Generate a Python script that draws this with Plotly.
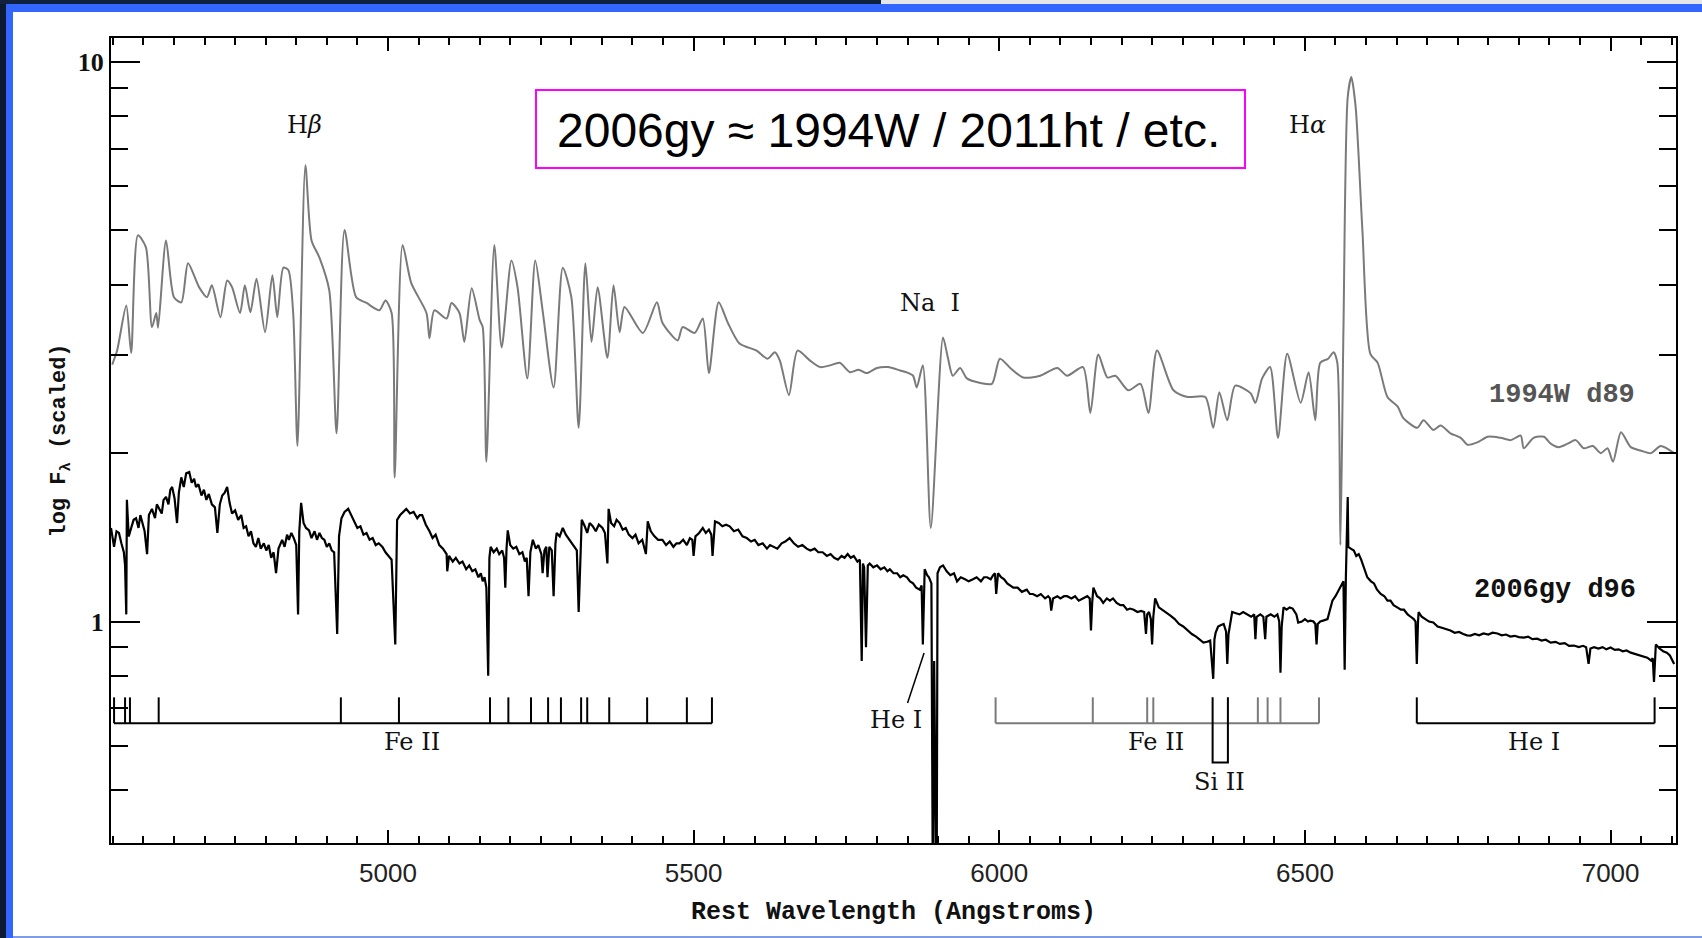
import math
import plotly.graph_objects as go

# ---------------- data ----------------
# SN 1994W, day 89 (grey spectrum): rest wavelength (A) and scaled flux
w94_wl = [4549, 4557, 4572, 4580, 4591, 4604, 4614, 4621, 4624, 4637,
          4650, 4662, 4673, 4691, 4704, 4712, 4726, 4737, 4745, 4758,
          4766, 4775, 4785, 4799, 4811, 4819, 4829, 4837, 4845, 4852,
          4865, 4875, 4888, 4904, 4916, 4929, 4948, 4965, 4986, 4996,
          5006, 5011, 5024, 5038, 5063, 5068, 5076, 5096, 5104, 5117,
          5125, 5137, 5150, 5155, 5161, 5174, 5186, 5202, 5212, 5228,
          5241, 5253, 5271, 5286, 5300, 5312, 5323, 5333, 5343, 5359,
          5369, 5379, 5387, 5417, 5440, 5449, 5474, 5482, 5502, 5515,
          5525, 5541, 5556, 5575, 5603, 5621, 5633, 5641, 5656, 5670,
          5690, 5707, 5723, 5739, 5756, 5770, 5783, 5800, 5818, 5838,
          5848, 5859, 5865,
          5875, 5888, 5908, 5916, 5924, 5936, 5947, 5969, 5988, 6001,
          6018, 6039, 6067, 6095, 6111, 6137, 6149, 6162, 6177, 6190,
          6211, 6231, 6244, 6258, 6285, 6308, 6337, 6350, 6360, 6373,
          6386, 6411, 6419, 6430, 6443, 6456, 6471, 6493, 6506, 6517,
          6525, 6538, 6547, 6553, 6558, 6563, 6570, 6576, 6583, 6594,
          6607, 6619, 6635, 6652, 6661, 6684, 6694, 6710, 6722, 6738,
          6755, 6766, 6782, 6799, 6820, 6837, 6853, 6858, 6874, 6891,
          6902, 6915, 6930, 6943, 6956, 6971, 6984, 6995, 7004, 7017,
          7033, 7050, 7066, 7082, 7104]
w94_flux = [2.88, 3.05, 3.67, 3.02, 4.90, 4.67, 3.36, 3.56, 3.35, 4.80,
            3.80, 3.72, 4.37, 3.96, 3.80, 3.99, 3.50, 4.07, 3.96, 3.56,
            3.99, 3.57, 4.10, 3.29, 4.16, 3.50, 4.29, 4.25, 3.56, 2.06,
            6.54, 4.80, 4.47, 3.91, 2.17, 5.01, 3.80, 3.71, 3.60, 3.75,
            3.56, 1.81, 4.71, 4.03, 3.56, 3.21, 3.60, 3.48, 3.71, 3.56,
            3.16, 3.94, 3.46, 3.36, 1.93, 4.71, 3.09, 4.42, 3.96, 2.72,
            4.42, 3.60, 2.62, 4.29, 3.80, 2.22, 4.37, 3.16, 3.96, 2.96,
            3.99, 3.29, 3.65, 3.28, 3.72, 3.42, 3.18, 3.36, 3.28, 3.48,
            2.78, 3.72, 3.42, 3.14, 3.05, 2.95, 3.03, 2.93, 2.54, 3.05,
            2.93, 2.85, 2.87, 2.90, 2.79, 2.82, 2.78, 2.84, 2.85, 2.81,
            2.79, 2.75, 2.62,
            2.87, 1.47, 3.22, 2.96, 2.75, 2.84, 2.72, 2.67, 2.66, 2.95,
            2.84, 2.73, 2.75, 2.84, 2.75, 2.85, 2.36, 3.00, 2.73, 2.75,
            2.59, 2.66, 2.36, 3.05, 2.59, 2.52, 2.52, 2.22, 2.57, 2.29,
            2.64, 2.56, 2.46, 2.72, 2.85, 2.13, 3.01, 2.46, 2.79, 2.29,
            2.90, 2.95, 3.03, 2.90, 1.37, 3.32, 8.66, 9.40, 8.31, 5.01,
            3.01, 2.90, 2.52, 2.42, 2.31, 2.22, 2.29, 2.20, 2.24, 2.17,
            2.13, 2.07, 2.09, 2.14, 2.13, 2.11, 2.15, 2.04, 2.13, 2.14,
            2.08, 2.05, 2.08, 2.11, 2.04, 2.06, 2.00, 2.04, 1.93, 2.18,
            2.05, 2.02, 2.00, 2.06, 2.00]

# SN 2006gy, day 96 (black spectrum)
gy_wl = [4547, 4550, 4552, 4556, 4560, 4564, 4568, 4570, 4572, 4573,
         4576, 4580, 4584, 4588, 4592, 4595, 4598, 4602, 4606, 4609,
         4614, 4619, 4622, 4626, 4630, 4633, 4637, 4641, 4644, 4647,
         4651, 4655, 4658, 4662, 4666, 4670, 4675, 4679, 4683, 4686,
         4690, 4695, 4699, 4703, 4707, 4712, 4717, 4721, 4725, 4729,
         4733, 4737, 4741, 4745, 4750, 4755, 4760, 4764, 4768, 4772,
         4776, 4780, 4784, 4788, 4792, 4797, 4801, 4805, 4809, 4813,
         4817, 4821, 4824, 4827, 4831, 4835, 4838, 4842, 4846, 4850,
         4853, 4855, 4858, 4862, 4866, 4871, 4875, 4880, 4884, 4888,
         4892, 4896, 4900, 4904, 4908, 4912, 4917, 4920, 4924, 4929,
         4935, 4940, 4945, 4950, 4955, 4960, 4965, 4970, 4975, 4980,
         4985, 4991, 4996, 5001, 5006, 5012, 5015, 5020, 5025, 5030,
         5036, 5042, 5048, 5052, 5056, 5062, 5068, 5073, 5078, 5084,
         5090, 5096, 5097, 5100, 5106, 5111, 5117, 5122, 5128, 5133,
         5138, 5143, 5148, 5152, 5155, 5158, 5161, 5164, 5166, 5168,
         5173, 5178, 5182, 5187, 5190, 5192, 5194, 5196, 5200, 5205,
         5210, 5215, 5220, 5224, 5227, 5230, 5233, 5237, 5242, 5246,
         5251, 5253, 5256, 5259, 5261, 5264, 5268, 5271, 5274, 5276,
         5281, 5286, 5291, 5297, 5302, 5306, 5309, 5312, 5315, 5317,
         5322, 5326, 5330, 5335, 5340, 5345, 5351, 5355, 5359, 5361,
         5365, 5370, 5374, 5379, 5384, 5389, 5394, 5400, 5405, 5410,
         5416, 5422, 5425, 5430, 5436, 5442, 5449, 5455, 5461, 5467,
         5472, 5477, 5483, 5489, 5494, 5498, 5500, 5503, 5509, 5515,
         5520, 5525, 5529, 5531, 5535, 5541, 5547, 5553, 5559, 5566,
         5573, 5580, 5587, 5594, 5600, 5606, 5613, 5620, 5625, 5630,
         5637, 5644, 5650, 5657, 5664, 5671, 5678, 5685, 5691, 5698,
         5704, 5711, 5718, 5724, 5730, 5736, 5742, 5747, 5752, 5757,
         5762, 5768, 5772, 5775, 5777, 5779, 5782, 5785, 5788, 5794,
         5800, 5806, 5812, 5817, 5821, 5827, 5833, 5838, 5843, 5849,
         5854, 5859, 5864, 5870, 5873, 5875, 5877, 5878, 5882, 5885,
         5889, 5890, 5891.5, 5893.5, 5895.5, 5897.5, 5899, 5903, 5908, 5914,
         5920, 5926, 5931, 5937, 5944, 5950, 5957, 5963, 5970, 5975,
         5980, 5986, 5990, 5993, 5995, 5998, 6003, 6008, 6013, 6018,
         6023, 6030, 6037, 6045, 6050, 6055, 6062, 6068, 6075, 6080,
         6083, 6085, 6088, 6095, 6100, 6106, 6111, 6118, 6124, 6130,
         6137, 6144, 6148, 6150, 6152, 6154, 6160, 6165, 6170, 6176,
         6181, 6186, 6192, 6198, 6203, 6209, 6214, 6220, 6226, 6232,
         6237, 6240, 6242, 6245, 6248, 6250, 6252, 6255, 6261, 6267,
         6273, 6280, 6287, 6294, 6301, 6308, 6315, 6322, 6328, 6334,
         6340, 6345, 6350, 6352, 6354, 6358, 6362, 6367, 6371, 6373,
         6375, 6378, 6381, 6387, 6393, 6399, 6406, 6412, 6417, 6419,
         6421, 6427, 6432, 6435, 6437, 6444, 6450, 6455, 6458, 6460,
         6462, 6465, 6470, 6475, 6480, 6486, 6489, 6495, 6500, 6505,
         6509, 6514, 6517, 6519, 6521, 6525, 6531, 6537, 6541, 6545,
         6550, 6556, 6561, 6563, 6565, 6567, 6570, 6571, 6575, 6580,
         6584, 6588, 6592, 6597, 6602, 6608, 6613, 6618, 6624, 6630,
         6635, 6640, 6645, 6651, 6657, 6662, 6668, 6673, 6678, 6681,
         6683, 6685, 6686, 6691, 6697, 6703, 6710, 6717, 6724, 6731,
         6738, 6745, 6752, 6759, 6765, 6771, 6778, 6785, 6792, 6800,
         6807, 6815, 6822, 6829, 6836, 6843, 6850, 6858, 6865, 6872,
         6880, 6887, 6894, 6902, 6910, 6917, 6925, 6932, 6940, 6948,
         6955, 6960, 6964, 6967, 6973, 6980, 6987, 6993, 7000, 7007,
         7013, 7020, 7026, 7033, 7040, 7046, 7053, 7060, 7066, 7069,
         7071, 7073, 7074, 7080, 7086, 7092, 7097, 7104]
gy_flux = [1.47, 1.40, 1.36, 1.45, 1.44, 1.38, 1.33, 1.26, 1.03, 1.65,
           1.42, 1.47, 1.52, 1.53, 1.47, 1.55, 1.50, 1.45, 1.32, 1.55,
           1.59, 1.53, 1.62, 1.59, 1.56, 1.65, 1.67, 1.62, 1.72, 1.74,
           1.66, 1.50, 1.70, 1.81, 1.74, 1.84, 1.85, 1.77, 1.80, 1.74,
           1.76, 1.68, 1.72, 1.65, 1.69, 1.62, 1.60, 1.44, 1.62, 1.68,
           1.70, 1.74, 1.63, 1.56, 1.58, 1.52, 1.55, 1.47, 1.48, 1.42,
           1.45, 1.38, 1.36, 1.41, 1.35, 1.38, 1.34, 1.37, 1.30, 1.33,
           1.22, 1.35, 1.38, 1.40, 1.36, 1.43, 1.40, 1.44, 1.41, 1.37,
           1.03, 1.45, 1.63, 1.50, 1.47, 1.455, 1.41, 1.45, 1.40, 1.44,
           1.41, 1.40, 1.36, 1.38, 1.34, 1.33, 0.95, 1.42, 1.53, 1.57,
           1.59, 1.55, 1.51, 1.47, 1.48, 1.43, 1.44, 1.40, 1.41, 1.37,
           1.38, 1.36, 1.33, 1.31, 1.29, 0.91, 1.52, 1.55, 1.57, 1.59,
           1.56, 1.57, 1.53, 1.55, 1.55, 1.49, 1.45, 1.41, 1.43, 1.37,
           1.35, 1.32, 1.23, 1.31, 1.28, 1.30, 1.27, 1.28, 1.24, 1.26,
           1.23, 1.24, 1.20, 1.22, 1.18, 1.20, 1.15, 0.80, 1.30, 1.36,
           1.33, 1.35, 1.32, 1.34, 1.30, 1.15, 1.35, 1.455, 1.37, 1.35,
           1.36, 1.32, 1.33, 1.28, 1.30, 1.11, 1.33, 1.40, 1.35, 1.37,
           1.32, 1.22, 1.34, 1.36, 1.20, 1.36, 1.34, 1.11, 1.38, 1.44,
           1.42, 1.47, 1.43, 1.40, 1.38, 1.36, 1.34, 1.04, 1.40, 1.52,
           1.48, 1.44, 1.50, 1.48, 1.45, 1.49, 1.47, 1.44, 1.27, 1.59,
           1.50, 1.48, 1.52, 1.50, 1.46, 1.47, 1.43, 1.41, 1.43, 1.38,
           1.40, 1.32, 1.51, 1.45, 1.42, 1.40, 1.40, 1.37, 1.39, 1.36,
           1.38, 1.38, 1.40, 1.37, 1.41, 1.40, 1.31, 1.42, 1.44, 1.47,
           1.44, 1.46, 1.43, 1.31, 1.51, 1.50, 1.48, 1.49, 1.48, 1.45,
           1.46, 1.42, 1.41, 1.39, 1.40, 1.37, 1.38, 1.35, 1.37, 1.36,
           1.35, 1.38, 1.39, 1.41, 1.38, 1.36, 1.37, 1.35, 1.34, 1.35,
           1.33, 1.33, 1.31, 1.32, 1.30, 1.29, 1.31, 1.30, 1.32, 1.30,
           1.31, 1.28, 1.29, 0.85, 1.27, 1.25, 0.90, 1.26, 1.27, 1.25,
           1.26, 1.24, 1.25, 1.23, 1.24, 1.22, 1.22, 1.20, 1.21, 1.20,
           1.18, 1.17, 1.15, 1.14, 1.16, 0.91, 1.20, 1.24, 1.21, 1.20,
           1.17, 0.30, 0.30, 0.85, 0.30, 0.30, 1.22, 1.25, 1.26, 1.23,
           1.21, 1.22, 1.18, 1.20, 1.19, 1.18, 1.19, 1.20, 1.18, 1.20,
           1.20, 1.19, 1.21, 1.22, 1.12, 1.22, 1.20, 1.19, 1.17, 1.16,
           1.15, 1.15, 1.13, 1.14, 1.12, 1.12, 1.11, 1.12, 1.10, 1.11,
           1.10, 1.046, 1.10, 1.11, 1.10, 1.11, 1.11, 1.10, 1.11, 1.09,
           1.10, 1.11, 1.10, 0.964, 1.08, 1.15, 1.11, 1.10, 1.08, 1.10,
           1.09, 1.10, 1.08, 1.07, 1.07, 1.05, 1.055, 1.05, 1.04, 1.045,
           1.04, 0.95, 1.03, 1.04, 1.01, 0.91, 1.02, 1.10, 1.06, 1.05,
           1.04, 1.025, 1.01, 0.99, 0.98, 0.964, 0.95, 0.94, 0.93, 0.917,
           0.92, 0.925, 0.79, 0.93, 0.956, 0.98, 0.985, 0.99, 0.96, 0.84,
           0.95, 1.00, 1.04, 1.035, 1.03, 1.04, 1.03, 1.02, 1.03, 0.93,
           1.02, 1.03, 1.02, 0.93, 1.02, 1.03, 1.02, 1.03, 1.00, 0.81,
           0.98, 1.06, 1.05, 1.06, 1.055, 1.03, 0.996, 1.00, 1.01, 1.00,
           1.004, 1.00, 0.99, 0.91, 0.99, 1.00, 1.005, 1.01, 1.05, 1.09,
           1.11, 1.14, 1.17, 1.18, 0.82, 1.20, 1.67, 1.36, 1.35, 1.34,
           1.31, 1.32, 1.29, 1.24, 1.20, 1.18, 1.17, 1.14, 1.12, 1.11,
           1.09, 1.09, 1.07, 1.06, 1.05, 1.05, 1.03, 1.02, 1.01, 1.00,
           0.84, 1.00, 1.04, 1.02, 1.01, 1.00, 0.996, 0.98, 0.975, 0.97,
           0.964, 0.955, 0.958, 0.95, 0.945, 0.944, 0.95, 0.945, 0.952, 0.948,
           0.955, 0.952, 0.945, 0.948, 0.94, 0.943, 0.938, 0.936, 0.94, 0.93,
           0.932, 0.925, 0.928, 0.917, 0.92, 0.912, 0.915, 0.905, 0.906, 0.90,
           0.905, 0.90, 0.84, 0.895, 0.90, 0.895, 0.90, 0.892, 0.899, 0.89,
           0.892, 0.885, 0.888, 0.88, 0.875, 0.87, 0.865, 0.862, 0.852, 0.86,
           0.78, 0.90, 0.91, 0.895, 0.885, 0.88, 0.87, 0.84]

assert len(w94_wl) == len(w94_flux)
assert len(gy_wl) == len(gy_flux)

# line identifications (rest wavelengths, A)
fe2_blue_lines = [4552, 4570, 4578, 4625, 4923, 5018, 5167, 5197, 5234,
                  5262, 5283, 5316, 5326, 5362, 5424, 5489, 5530]
fe2_red_lines = [5994, 6153, 6242, 6252, 6423, 6439, 6460, 6523]
si2_lines = [6349, 6374]
he1_red_lines = [6683, 7072]
he1_na_line = 5877

x_tick_step = 500
x_minor_step = 50

# ---------------- geometry (pixels of the 1702x938 page) ----------------
W, H = 1702, 938
PL, PR, PT, PB = 111, 1676, 38, 843      # plot-area edges
X_RANGE = [4547, 7107]
Y_RANGE = [math.log10(0.402), math.log10(11.04)]


def px(x):
    return (x - PL) / (PR - PL)


def py(y):
    return (PB - y) / (PB - PT)


# bracket levels (flux units)
BR_BASE, BR_TOP, SI_BOTTOM = 0.658, 0.732, 0.560

fig = go.Figure()

fig.add_trace(go.Scatter(x=w94_wl, y=w94_flux, mode="lines",
                         line=dict(color="#7a7a7a", width=2, shape="spline",
                                   smoothing=0.7),
                         name="1994W d89", hoverinfo="x+y"))
fig.add_trace(go.Scatter(x=gy_wl, y=gy_flux, mode="lines",
                         line=dict(color="#000000", width=2.2),
                         name="2006gy d96", hoverinfo="x+y"))


def bracket(lines):
    xs = [min(lines), max(lines)]
    ys = [BR_BASE, BR_BASE]
    for w in lines:
        xs += [None, w, w]
        ys += [None, BR_BASE, BR_TOP]
    return xs, ys


for lines, col in [(fe2_blue_lines, "#000000"), (fe2_red_lines, "#7a7a7a"),
                   (he1_red_lines, "#000000")]:
    bx, by = bracket(lines)
    fig.add_trace(go.Scatter(x=bx, y=by, mode="lines",
                             line=dict(color=col, width=2), hoverinfo="skip"))

# Si II U-shape
fig.add_trace(go.Scatter(x=[si2_lines[0], si2_lines[0], si2_lines[1], si2_lines[1]],
                         y=[BR_TOP, SI_BOTTOM, SI_BOTTOM, BR_TOP], mode="lines",
                         line=dict(color="#000000", width=2), hoverinfo="skip"))
# He I leader line near Na I
fig.add_trace(go.Scatter(x=[he1_na_line - 27, he1_na_line], y=[0.7155, 0.8787],
                         mode="lines", line=dict(color="#000000", width=1.5),
                         hoverinfo="skip"))

SERIF = "DejaVu Serif"
MONO = "Liberation Mono"


def label(text, x, f, size=24, font=SERIF, color="#111111", weight="normal"):
    fig.add_annotation(x=x, y=math.log10(f), xref="x", yref="y", text=text,
                       showarrow=False, xanchor="center", yanchor="middle",
                       font=dict(family=font, size=size, color=color, weight=weight))


label("H<i>β</i>", 4863, 7.71)
label("H<i>α</i>", 6504, 7.71)
label("Na  I", 5886, 3.715)
label("He I", 5831, 0.668)
label("Fe II", 5039, 0.6087)
label("Fe II", 6256, 0.6087)
label("Si II", 6361, 0.516)
label("He I", 6875, 0.6087)
label("1994W d89", 6921, 2.537, size=27, font=MONO, color="#555555", weight="bold")
label("2006gy d96", 6909, 1.141, size=27, font=MONO, color="#111111", weight="bold")

# title box
fig.add_shape(type="rect", xref="paper", yref="paper",
              x0=px(536), x1=px(1245), y0=py(168), y1=py(90),
              line=dict(color="#ff00ff", width=2), fillcolor="rgba(0,0,0,0)")
fig.add_annotation(xref="paper", yref="paper", x=px(888), y=py(131),
                   text="2006gy ≈ 1994W / 2011ht / etc.", showarrow=False,
                   xanchor="center", yanchor="middle",
                   font=dict(family="Liberation Sans", size=48, color="#000000"))

# slide frame decoration
deco = [
    (0, 0, 6, 938, "#0c1a34"),
    (0, 0, 881, 4, "#10223f"),
    (881, 0, 1702, 4, "#e4e6ea"),
    (6, 4, 1702, 12, "#3366ff"),
    (6, 4, 13, 938, "#3366ff"),
    (13, 936, 1702, 938, "#7f9ce6"),
]
for x0, y0, x1, y1, c in deco:
    fig.add_shape(type="rect", xref="paper", yref="paper",
                  x0=px(x0), x1=px(x1), y0=py(y1), y1=py(y0),
                  line=dict(width=0), fillcolor=c, layer="below")

fig.update_layout(
    width=W, height=H,
    margin=dict(l=PL, r=W - PR, t=PT, b=H - PB, autoexpand=False),
    paper_bgcolor="white", plot_bgcolor="white",
    showlegend=False,
    xaxis=dict(range=X_RANGE, showgrid=False, zeroline=False,
               showline=True, linecolor="black", linewidth=2, mirror="allticks",
               ticks="inside", ticklen=13, tickwidth=1.5, tickcolor="black",
               tick0=0, dtick=x_tick_step, ticklabelstandoff=6,
               minor=dict(ticks="inside", ticklen=7, tickwidth=1.5,
                          tickcolor="black", dtick=x_minor_step, tick0=0,
                          showgrid=False),
               tickfont=dict(family="Liberation Sans", size=26, color="#222222"),
               title=dict(text="Rest Wavelength (Angstroms)", standoff=14,
                          font=dict(family=MONO, size=25, color="#111111", weight="bold"))),
    yaxis=dict(type="log", range=Y_RANGE, showgrid=False, zeroline=False,
               showline=True, linecolor="black", linewidth=2, mirror="allticks",
               ticks="inside", ticklen=29, tickwidth=1.5, tickcolor="black",
               tick0=0, dtick=1,
               minor=dict(ticks="inside", ticklen=17, tickwidth=1.5,
                          tickcolor="black", dtick="D1", showgrid=False),
               tickfont=dict(family="Liberation Serif", size=26, color="#111111", weight="bold"),
               title=dict(text="log F<sub>λ</sub> (scaled)", standoff=6,
                          font=dict(family=MONO, size=22, color="#111111", weight="bold"))),
)

fig.write_html("out.html")
